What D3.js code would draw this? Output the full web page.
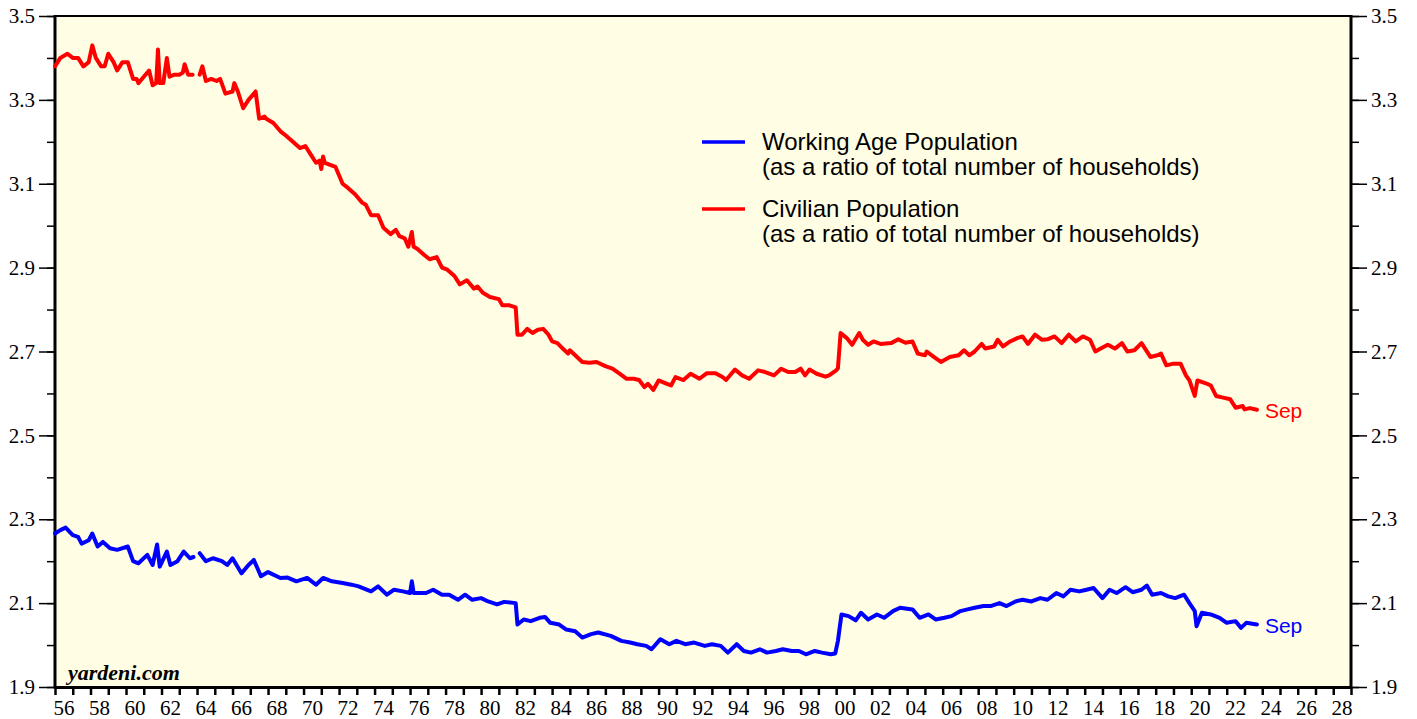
<!DOCTYPE html>
<html>
<head>
<meta charset="utf-8">
<script src="https://cdn.jsdelivr.net/npm/d3@7"></script>
<style>
  html, body { margin: 0; padding: 0; background: #ffffff; }
  svg { display: block; }
</style>
</head>
<body>
<svg id="chart" width="1417" height="719"></svg>
<script>
// ---------------- DATA ----------------
const civYears = [1956.0,1956.3,1956.7,1957.0,1957.3,1957.6,1957.9,1958.1,1958.3,1958.6,1958.8,1959.0,1959.3,1959.5,1959.8,1960.1,1960.4,1960.6,1960.7,1961.0,1961.3,1961.5,1961.7,1961.8,1961.9,1962.1,1962.3,1962.45,1962.7,1963.0,1963.2,1963.3,1963.5,1963.75,1963.95,1964.15,1964.3,1964.5,1964.8,1965.1,1965.3,1965.6,1966.0,1966.1,1966.3,1966.6,1966.9,1967.3,1967.5,1967.8,1967.9,1968.3,1968.7,1969.0,1969.4,1969.8,1970.1,1970.4,1970.7,1970.9,1971.0,1971.1,1971.2,1971.5,1971.8,1972.2,1972.5,1972.9,1973.3,1973.5,1973.8,1974.2,1974.5,1974.9,1975.2,1975.4,1975.7,1975.9,1976.1,1976.2,1976.4,1976.8,1977.1,1977.5,1977.8,1978.1,1978.5,1978.8,1979.2,1979.6,1979.8,1980.1,1980.5,1981.0,1981.2,1981.6,1981.95,1982.05,1982.3,1982.6,1982.9,1983.2,1983.5,1983.8,1984.0,1984.3,1984.6,1984.9,1985.0,1985.3,1985.7,1986.1,1986.5,1987.0,1987.4,1987.8,1988.2,1988.6,1988.9,1989.2,1989.4,1989.7,1990.0,1990.4,1990.7,1990.95,1991.4,1991.8,1992.3,1992.7,1993.2,1993.6,1993.8,1994.3,1994.7,1995.1,1995.6,1996.0,1996.5,1996.9,1997.3,1997.7,1998.0,1998.25,1998.5,1998.9,1999.4,1999.6,2000.0,2000.1,2000.25,2000.6,2000.9,2001.3,2001.5,2001.8,2002.1,2002.5,2003.1,2003.5,2003.9,2004.3,2004.6,2005.0,2005.1,2005.5,2005.9,2006.4,2006.9,2007.2,2007.5,2007.8,2008.2,2008.4,2008.9,2009.1,2009.4,2009.8,2010.2,2010.5,2010.8,2011.2,2011.6,2011.9,2012.3,2012.7,2013.1,2013.5,2013.9,2014.3,2014.6,2014.9,2015.3,2015.7,2016.1,2016.4,2016.8,2017.2,2017.7,2018.1,2018.3,2018.6,2019.0,2019.4,2019.7,2019.9,2020.2,2020.35,2020.9,2021.1,2021.4,2021.8,2022.2,2022.5,2022.9,2023.0,2023.3,2023.7];
const civValues = [3.38,3.40,3.41,3.40,3.40,3.38,3.39,3.43,3.40,3.38,3.38,3.41,3.39,3.37,3.39,3.39,3.35,3.35,3.34,3.355,3.37,3.335,3.34,3.42,3.34,3.34,3.40,3.355,3.36,3.36,3.365,3.385,3.36,3.36,null,3.36,3.38,3.345,3.35,3.345,3.35,3.315,3.32,3.34,3.32,3.28,3.30,3.32,3.255,3.26,3.255,3.245,3.225,3.215,3.20,3.185,3.19,3.17,3.15,3.155,3.135,3.165,3.15,3.145,3.14,3.10,3.09,3.075,3.055,3.05,3.025,3.025,2.995,2.98,2.99,2.975,2.97,2.95,2.985,2.95,2.945,2.93,2.92,2.925,2.90,2.895,2.88,2.86,2.87,2.85,2.855,2.84,2.83,2.825,2.81,2.81,2.805,2.74,2.74,2.754,2.744,2.752,2.754,2.74,2.724,2.72,2.707,2.695,2.703,2.691,2.675,2.673,2.675,2.665,2.659,2.647,2.635,2.635,2.632,2.615,2.623,2.608,2.631,2.624,2.619,2.639,2.632,2.647,2.635,2.648,2.648,2.639,2.632,2.657,2.643,2.635,2.655,2.651,2.643,2.659,2.651,2.651,2.659,2.643,2.657,2.647,2.64,2.643,2.655,2.66,2.744,2.732,2.716,2.744,2.728,2.716,2.724,2.718,2.72,2.729,2.721,2.724,2.695,2.691,2.70,2.687,2.675,2.687,2.691,2.703,2.691,2.70,2.718,2.707,2.712,2.728,2.712,2.724,2.732,2.736,2.718,2.74,2.728,2.729,2.736,2.72,2.74,2.724,2.736,2.728,2.70,2.707,2.716,2.707,2.72,2.70,2.703,2.72,2.687,2.691,2.695,2.667,2.671,2.671,2.643,2.631,2.594,2.631,2.623,2.619,2.594,2.59,2.586,2.566,2.57,2.562,2.565,2.561];

const wapYears = [1956.0,1956.3,1956.6,1957.0,1957.3,1957.5,1957.9,1958.1,1958.4,1958.7,1959.1,1959.5,1960.1,1960.4,1960.7,1961.2,1961.5,1961.75,1961.9,1962.3,1962.5,1962.9,1963.25,1963.6,1963.8,1963.95,1964.15,1964.5,1964.9,1965.4,1965.7,1966.0,1966.5,1966.9,1967.2,1967.6,1968.0,1968.7,1969.1,1969.6,1970.2,1970.7,1971.1,1971.6,1972.2,1972.7,1973.1,1973.8,1974.2,1974.7,1975.1,1975.6,1976.0,1976.1,1976.2,1976.9,1977.3,1977.8,1978.2,1978.7,1979.1,1979.5,1980.0,1980.4,1980.9,1981.3,1981.95,1982.05,1982.4,1982.8,1983.3,1983.6,1983.9,1984.4,1984.8,1985.3,1985.7,1986.2,1986.6,1987.3,1987.9,1988.4,1988.8,1989.3,1989.6,1990.1,1990.6,1991.0,1991.5,1992.0,1992.6,1993.0,1993.5,1993.9,1994.4,1994.8,1995.2,1995.7,1996.1,1996.6,1997.0,1997.5,1997.9,1998.3,1998.8,1999.2,1999.7,1999.95,2000.1,2000.3,2000.7,2001.1,2001.4,2001.8,2002.3,2002.7,2003.2,2003.6,2004.3,2004.7,2005.2,2005.6,2006.1,2006.5,2007.0,2007.4,2007.8,2008.3,2008.7,2009.2,2009.6,2010.1,2010.5,2011.0,2011.5,2011.9,2012.4,2012.8,2013.2,2013.7,2014.1,2014.5,2015.0,2015.4,2015.8,2016.3,2016.7,2017.2,2017.5,2017.8,2018.3,2018.7,2019.1,2019.6,2019.9,2020.2,2020.3,2020.6,2021.1,2021.6,2022.0,2022.5,2022.8,2023.1,2023.7];
const wapValues = [2.266,2.274,2.28,2.262,2.258,2.242,2.25,2.266,2.235,2.246,2.231,2.227,2.235,2.20,2.195,2.215,2.191,2.24,2.187,2.223,2.191,2.20,2.223,2.207,2.21,null,2.219,2.20,2.207,2.20,2.191,2.207,2.171,2.191,2.203,2.164,2.174,2.16,2.161,2.152,2.16,2.144,2.16,2.152,2.148,2.144,2.14,2.128,2.14,2.12,2.132,2.128,2.124,2.152,2.124,2.124,2.132,2.12,2.12,2.108,2.12,2.108,2.112,2.104,2.097,2.103,2.10,2.049,2.061,2.057,2.065,2.067,2.053,2.049,2.037,2.033,2.018,2.026,2.03,2.022,2.01,2.006,2.002,1.998,1.99,2.014,2.002,2.01,2.002,2.006,1.998,2.002,1.998,1.982,2.002,1.986,1.982,1.99,1.982,1.986,1.99,1.986,1.986,1.978,1.986,1.982,1.978,1.98,2.01,2.073,2.069,2.059,2.077,2.061,2.073,2.065,2.081,2.089,2.085,2.065,2.073,2.061,2.065,2.069,2.081,2.085,2.089,2.093,2.093,2.10,2.093,2.104,2.108,2.104,2.112,2.108,2.124,2.116,2.132,2.128,2.132,2.136,2.112,2.132,2.124,2.138,2.126,2.132,2.142,2.12,2.124,2.116,2.112,2.12,2.10,2.081,2.045,2.077,2.073,2.065,2.053,2.057,2.041,2.053,2.049];

const yTickValues = [1.9,2.0,2.1,2.2,2.3,2.4,2.5,2.6,2.7,2.8,2.9,3.0,3.1,3.2,3.3,3.4,3.5];
const yLabelValues = [1.9,2.1,2.3,2.5,2.7,2.9,3.1,3.3,3.5];
const xYearTicks = d3.range(1956, 2030);
const xLabelYears = d3.range(1956, 2029, 2);

const legendItems = [
  {label1: "Working Age Population", label2: "(as a ratio of total number of households)", color: "#0000ff"},
  {label1: "Civilian Population", label2: "(as a ratio of total number of households)", color: "#ff0000"}
];

// ---------------- LAYOUT ----------------
const svg = d3.select("#chart");
const L = 55, R = 1351, T = 16, B = 687;
const x = d3.scaleLinear().domain([1956, 2029]).range([L, R]);
const y = d3.scaleLinear().domain([1.9, 3.5]).range([B, T]);

svg.append("rect").attr("x", L).attr("y", T).attr("width", R - L).attr("height", B - T)
  .attr("fill", "#fffee4");

const serif = "'Liberation Serif', 'Times New Roman', serif";
const sans = "'Liberation Sans', Arial, Helvetica, sans-serif";

function styleAxis(g) {
  g.select(".domain").remove();
  g.selectAll(".tick line").attr("stroke", "#000").attr("stroke-width", 1.5);
  g.selectAll("text").attr("font-family", serif).attr("font-size", 21).attr("fill", "#000");
}
svg.append("g").attr("transform", `translate(${L},0)`)
  .call(d3.axisLeft(y).tickValues(yTickValues).tickSize(8).tickFormat(""))
  .call(styleAxis);
svg.append("g").attr("transform", `translate(${L},0)`)
  .call(d3.axisLeft(y).tickValues(yLabelValues).tickSize(16).tickPadding(4).tickFormat(d3.format(".1f")))
  .call(styleAxis);
svg.append("g").attr("transform", `translate(${R},0)`)
  .call(d3.axisRight(y).tickValues(yTickValues).tickSize(8).tickFormat(""))
  .call(styleAxis);
svg.append("g").attr("transform", `translate(${R},0)`)
  .call(d3.axisRight(y).tickValues(yLabelValues).tickSize(16).tickPadding(4).tickFormat(d3.format(".1f")))
  .call(styleAxis);

// Bottom axis: yearly ticks, labels centred in the year
svg.append("g").attr("transform", `translate(0,${B + 1})`)
  .call(d3.axisBottom(x).tickValues(xYearTicks).tickSize(7).tickFormat(""))
  .call(g => { g.select(".domain").remove(); g.selectAll(".tick line").attr("stroke", "#000").attr("stroke-width", 2.5); });
svg.append("g").selectAll("text").data(xLabelYears).join("text")
  .attr("x", d => x(d + 0.5)).attr("y", 715)
  .attr("text-anchor", "middle")
  .attr("font-family", serif).attr("font-size", 21).attr("fill", "#000")
  .text(d => String(d % 100).padStart(2, "0"));

// Frame
svg.append("line").attr("x1", L).attr("x2", R).attr("y1", T).attr("y2", T).attr("stroke", "#000").attr("stroke-width", 2);
svg.append("line").attr("x1", L).attr("x2", L).attr("y1", T - 1).attr("y2", B + 1.5).attr("stroke", "#000").attr("stroke-width", 3);
svg.append("line").attr("x1", R).attr("x2", R).attr("y1", T - 1).attr("y2", B + 1.5).attr("stroke", "#000").attr("stroke-width", 3);
svg.append("line").attr("x1", L).attr("x2", R).attr("y1", B + 0.5).attr("y2", B + 0.5).attr("stroke", "#000").attr("stroke-width", 3);

// Lines
const line = d3.line().defined(d => d[1] !== null).x(d => x(d[0])).y(d => y(d[1]));
const civData = civYears.map((t, i) => [t, civValues[i]]);
const wapData = wapYears.map((t, i) => [t, wapValues[i]]);

svg.append("path").datum(civData).attr("d", line)
  .attr("fill", "none").attr("stroke", "#ff0000").attr("stroke-width", 4)
  .attr("stroke-linejoin", "round").attr("stroke-linecap", "round");
svg.append("path").datum(wapData).attr("d", line)
  .attr("fill", "none").attr("stroke", "#0000ff").attr("stroke-width", 4)
  .attr("stroke-linejoin", "round").attr("stroke-linecap", "round");

// End labels
svg.append("text").attr("x", x(civYears[civYears.length - 1]) + 8).attr("y", y(civValues[civValues.length - 1]) + 8)
  .attr("font-family", sans).attr("font-size", 21).attr("fill", "#ff0000").text("Sep");
svg.append("text").attr("x", x(wapYears[wapYears.length - 1]) + 8).attr("y", y(wapValues[wapValues.length - 1]) + 8)
  .attr("font-family", sans).attr("font-size", 21).attr("fill", "#0000ff").text("Sep");

// Legend
const lg = svg.append("g");
legendItems.forEach((it, i) => {
  const y0 = 142 + i * 67;
  lg.append("line").attr("x1", 702).attr("x2", 745).attr("y1", y0).attr("y2", y0)
    .attr("stroke", it.color).attr("stroke-width", 3.5);
  lg.append("text").attr("x", 762).attr("y", y0 + 7.5)
    .attr("font-family", sans).attr("font-size", 24).attr("fill", "#000").text(it.label1);
  lg.append("text").attr("x", 762).attr("y", y0 + 32.5)
    .attr("font-family", sans).attr("font-size", 24).attr("fill", "#000").text(it.label2);
});

// Watermark
svg.append("text").attr("x", 68).attr("y", 680)
  .attr("font-family", serif).attr("font-size", 22).attr("font-weight", "bold").attr("font-style", "italic")
  .attr("fill", "#000").text("yardeni.com");
</script>
</body>
</html>
